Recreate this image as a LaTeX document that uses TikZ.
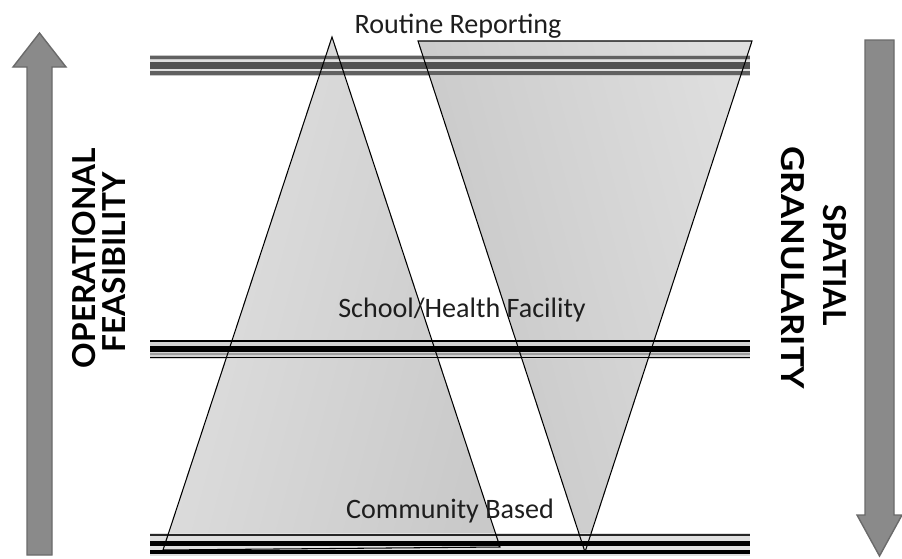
\documentclass[tikz,border=0pt]{standalone}
\usepackage{fontspec}
\setmainfont{Carlito}
\newfontfamily\axisfont{Lato}
\usetikzlibrary{positioning}

\definecolor{arrowgray}{HTML}{8A8A8A}
\definecolor{arrowedge}{HTML}{6A6A6A}
\definecolor{textgray}{HTML}{1E1E1E}

\tikzset{
  levellabel/.style={font=\fontsize{16}{19}\selectfont, text=textgray, inner sep=0pt, anchor=base},
  axislabel/.style={font=\axisfont\bfseries\fontsize{18}{22}\selectfont, text=black, inner sep=0pt},
  axisarrow/.style={fill=arrowgray, draw=arrowedge, line width=0.8pt, line join=miter},
  edge/.style={draw=black, line width=0.6pt, line join=miter}
}

\begin{document}
\begin{tikzpicture}[x=0.02cm, y=-0.02cm]
\useasboundingbox (0,0) rectangle (902,558);

\coordinate (up_top) at (332,37);
\coordinate (up_left) at (163,550);
\coordinate (up_right) at (500,547);
\coordinate (down_left) at (418,41);
\coordinate (down_right) at (752,41);
\coordinate (down_tip) at (585,552);

\shade[left color=gray!24, middle color=gray!10, right color=gray!42, shading angle=75]
  (up_top) -- (up_left) -- (up_right) -- cycle;
\shade[left color=gray!45, middle color=gray!6, right color=gray!26, shading angle=105]
  (down_left) -- (down_right) -- (down_tip) -- cycle;

\fill[gray!45] (150,55) rectangle (750,76);
\foreach \y/\w/\c in {57.5/2.0/black!62, 61/0.8/gray!25, 65.5/4.0/black!68, 70/0.8/gray!25, 73/2.0/black!62}
  \draw[\c, line width=\w pt] (150,\y) -- (750,\y);

\fill[gray!35] (150,340) rectangle (750,359);
\foreach \y/\w/\c in {341/0.9/black, 349/3.0/black, 354/1.0/gray!75, 357.5/0.9/black}
  \draw[\c, line width=\w pt] (150,\y) -- (750,\y);

\fill[gray!25] (150,533) rectangle (750,556);
\foreach \y/\w/\c in {535/1.2/black!85, 543.5/3.0/black, 552/2.0/black}
  \draw[\c, line width=\w pt] (150,\y) -- (750,\y);

\draw[edge] (up_top) -- (up_left) -- (up_right) -- cycle;
\draw[edge] (down_left) -- (down_right) -- (down_tip) -- cycle;

\node[levellabel] (routine) at (458,33) {Routine Reporting};
\node[levellabel] (facility) at (462,317) {School/Health Facility};
\node[levellabel] (community) at (450,518) {Community Based};

\filldraw[axisarrow] (27,555) -- (27,67) -- (13,67) -- (39.5,33) -- (66,67) -- (52,67) -- (52,555) -- cycle;
\filldraw[axisarrow] (865,40) -- (865,515) -- (857,515) -- (879.5,556) -- (902,515) -- (894,515) -- (894,40) -- cycle;

\node[axislabel, rotate=90] (operational) at (84,258) {OPERATIONAL};
\node[axislabel, rotate=90] (feasibility) at (114,262) {FEASIBILITY};
\node[axislabel, rotate=-90] (spatial) at (835,265) {SPATIAL};
\node[axislabel, rotate=-90, xscale=1.1] (granularity) at (793,268) {GRANULARITY};

\end{tikzpicture}
\end{document}
